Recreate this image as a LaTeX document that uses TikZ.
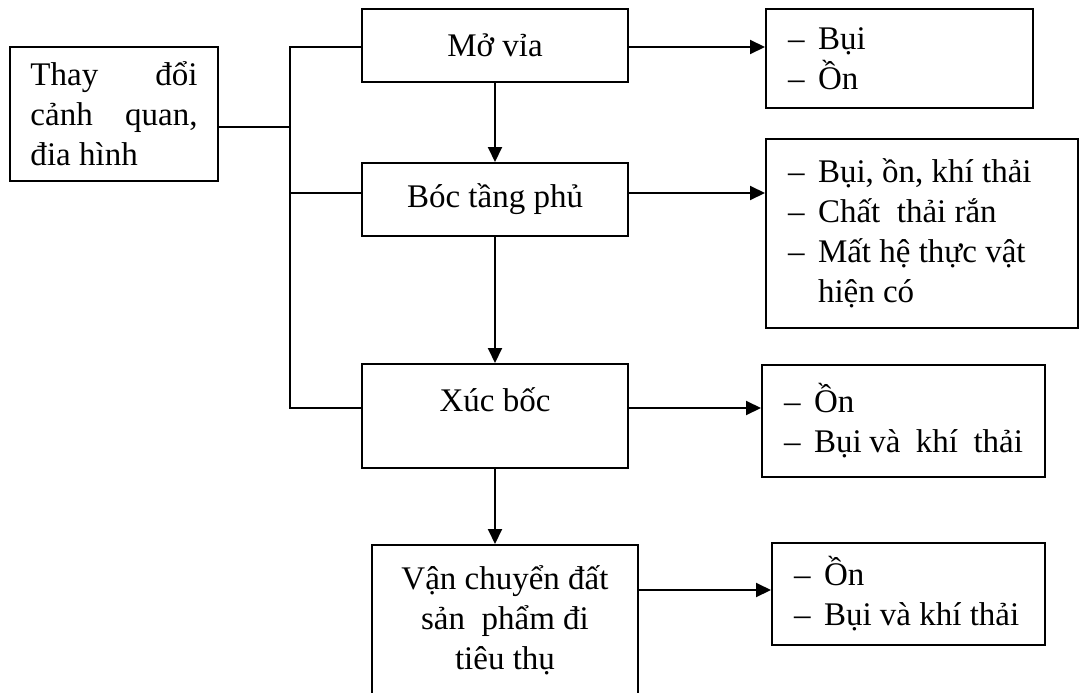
\documentclass[tikz,border=0pt]{standalone}
\usepackage{fontspec}
\setmainfont{Liberation Serif}
\usetikzlibrary{positioning, arrows.meta}

\newcommand{\dsh}{\makebox[30pt][l]{--}}

\begin{document}
\begin{tikzpicture}[x=1pt, y=-1pt, font=\fontsize{33}{40}\selectfont,
  >={Triangle[length=15pt,width=14pt]},
  ln/.style={line width=2pt},
  bx/.style={draw, ln, inner sep=0pt, align=center},
  lst/.style={bx, align=flush left, inner xsep=22pt},
  s/.style={->, ln}]
\useasboundingbox (0,0) rectangle (1081,693);
% Left: the cause.
\node[bx, minimum width=208pt, minimum height=134pt, text width=167pt, align=flush left]
  (change) at (114,114) {Thay\hfill đổi\\cảnh\hfill quan,\\đia hình};
\coordinate (spine) at (290,127);
% Centre: the mining steps.
\node[bx, minimum width=266pt, minimum height=73pt] (mo) at (495,45.5) {Mở vỉa};
\node[bx, minimum width=266pt, minimum height=73pt] (boc) at (495,199.5) {Bóc tầng phủ};
\node[bx, minimum width=266pt, minimum height=104pt, text height=20pt, text depth=30pt]
  (xuc) at (495,416) {Xúc bốc};
\node[bx, minimum width=266pt, minimum height=150pt] (van) at (505,620)
  {Vận chuyển đất\\sản~ phẩm đi\\tiêu thụ};
% Right: the impacts.
\node[lst, minimum width=267pt, minimum height=99pt, text width=223pt] (r1) at (899.5,58.5)
  {\dsh Bụi\\\dsh Ồn};
\node[lst, minimum width=312pt, minimum height=189pt, text width=268pt] (r2) at (922,233.5)
  {\dsh Bụi,~ồn,~khí~thải\\\dsh Chất~ thải~rắn\\\dsh Mất~hệ~thực~vật\\\hspace*{30pt}hiện~có};
\node[lst, minimum width=283pt, minimum height=112pt, text width=239pt] (r3) at (903.5,421)
  {\dsh Ồn\\\dsh Bụi~và~ khí~ thải};
\node[lst, minimum width=273pt, minimum height=102pt, text width=229pt] (r4) at (908.5,594)
  {\dsh Ồn\\\dsh Bụi~và~khí~thải};
% Bracket from the cause to the steps.
\draw[ln] (change.east |- spine) -- (spine);
\draw[ln] ([yshift=-1.5pt]mo.west) -| (spine) |- ([yshift=8pt]xuc.west);
\draw[ln] ([yshift=6.5pt]boc.west) -- ([yshift=6.5pt]boc.west -| spine);
% Step order.
\draw[s] (mo) -- (boc);
\draw[s] (boc) -- (xuc);
\draw[s] (xuc.south) -- (xuc.south |- van.north);
% Step to impact.
\draw[s] ([yshift=-1.5pt]mo.east) -- ([yshift=-1.5pt]mo.east -| r1.west);
\draw[s] ([yshift=6.5pt]boc.east) -- ([yshift=6.5pt]boc.east -| r2.west);
\draw[s] ([yshift=8pt]xuc.east) -- ([yshift=8pt]xuc.east -| r3.west);
\draw[s] ([yshift=30pt]van.east) -- ([yshift=30pt]van.east -| r4.west);
\end{tikzpicture}
\end{document}
